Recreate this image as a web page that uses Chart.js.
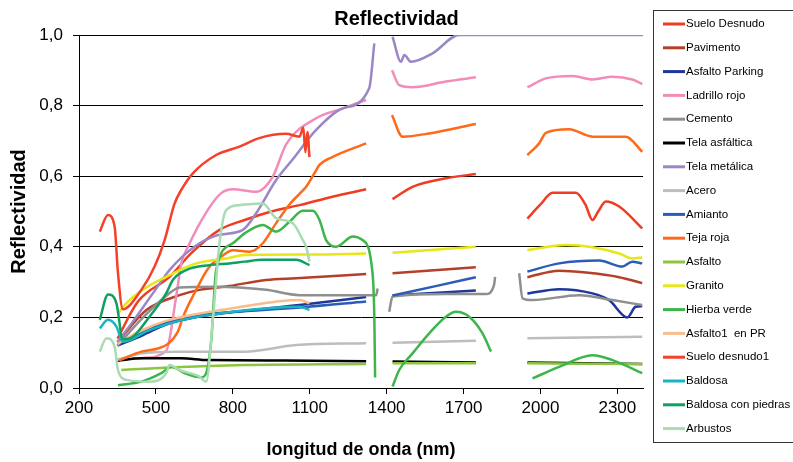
<!DOCTYPE html>
<html>
<head>
<meta charset="utf-8">
<script src="https://cdn.jsdelivr.net/npm/chart.js@4.4.0/dist/chart.umd.min.js"></script>
<style>
  body { margin: 0; background: #fff; }
  #wrap { width: 793px; height: 462px; position: relative; }
</style>
</head>
<body>
<div id="wrap"><canvas id="myChart"></canvas></div>
<script>
// axis ticks
var xTicks = [200, 500, 800, 1100, 1400, 1700, 2000, 2300];
var xTickLabels = ['200', '500', '800', '1100', '1400', '1700', '2000', '2300'];
var yTicks = [0, 0.2, 0.4, 0.6, 0.8, 1.0];
var yTickLabels = ['0,0', '0,2', '0,4', '0,6', '0,8', '1,0'];

// spectra: wavelength (nm) and reflectance, null = gap (water absorption bands)
var sueloDesnudoNm = [350, 430, 553, 638, 748, 846, 950, 1060, 1189, 1320, 1380, 1423, 1501, 1631, 1748, 1880, 1949, 2000, 2047, 2138, 2175, 2203, 2225, 2255, 2307, 2397];
var sueloDesnudoR = [0.14, 0.245, 0.315, 0.382, 0.448, 0.476, 0.50, 0.518, 0.542, 0.563, null, 0.535, 0.57, 0.594, 0.606, null, 0.48, 0.52, 0.553, 0.553, 0.52, 0.476, 0.50, 0.528, 0.514, 0.452];

var pavimentoNm = [350, 463, 592, 670, 787, 930, 1047, 1320, 1380, 1423, 1748, 1880, 1949, 2073, 2177, 2307, 2397];
var pavimentoR = [0.13, 0.221, 0.263, 0.278, 0.289, 0.306, 0.311, 0.323, null, 0.325, 0.342, null, 0.314, 0.332, 0.327, 0.314, 0.297];

var asfaltoParkingNm = [350, 450, 540, 650, 800, 1060, 1320, 1380, 1423, 1600, 1748, 1880, 1949, 2073, 2203, 2268, 2339, 2371, 2397];
var asfaltoParkingR = [0.12, 0.15, 0.18, 0.20, 0.215, 0.235, 0.258, null, 0.262, 0.27, 0.276, null, 0.268, 0.28, 0.268, 0.249, 0.20, 0.23, 0.232];

var ladrilloNm = [350, 450, 540, 579, 599, 625, 702, 755, 800, 891, 956, 1008, 1125, 1229, 1320, 1380, 1421, 1449, 1501, 1631, 1748, 1880, 1949, 2021, 2125, 2203, 2281, 2358, 2397];
var ladrilloR = [0.08, 0.085, 0.105, 0.259, 0.353, 0.40, 0.504, 0.552, 0.563, 0.556, 0.599, 0.69, 0.764, 0.792, 0.816, null, 0.90, 0.858, 0.852, 0.868, 0.88, null, 0.852, 0.877, 0.884, 0.874, 0.882, 0.874, 0.861];

var cementoNm = [350, 450, 547, 592, 735, 930, 1060, 1359, 1365, 1380, 1410, 1423, 1631, 1787, 1819, 1823, 1880, 1917, 1930, 1969, 2151, 2281, 2397];
var cementoR = [0.12, 0.2, 0.265, 0.285, 0.287, 0.278, 0.263, 0.263, 0.282, null, 0.216, 0.259, 0.266, 0.266, 0.292, 0.315, null, 0.325, 0.254, 0.249, 0.263, 0.249, 0.235];

var telaAsfalticaNm = [350, 443, 599, 702, 1000, 1320, 1380, 1423, 1748, 1880, 1949, 2397];
var telaAsfalticaR = [0.077, 0.084, 0.084, 0.079, 0.078, 0.076, null, 0.075, 0.072, null, 0.072, 0.068];

var telaMetalicaNm = [350, 410, 488, 553, 650, 741, 839, 891, 969, 1034, 1125, 1229, 1332, 1352, 1380, 1423, 1456, 1469, 1495, 1579, 1683, 2400];
var telaMetalicaR = [0.13, 0.188, 0.268, 0.334, 0.40, 0.433, 0.448, 0.495, 0.589, 0.648, 0.731, 0.792, 0.849, 0.976, null, 0.995, 0.924, 0.943, 0.924, 0.948, 1.0, 1.0];

var aceroNm = [350, 443, 573, 846, 1047, 1320, 1380, 1423, 1748, 1880, 1949, 2397];
var aceroR = [0.08, 0.098, 0.103, 0.103, 0.122, 0.127, null, 0.128, 0.134, null, 0.141, 0.145];

var amiantoNm = [350, 450, 540, 650, 800, 1060, 1320, 1380, 1423, 1600, 1748, 1880, 1949, 2073, 2229, 2320, 2358, 2397];
var amiantoR = [0.125, 0.16, 0.185, 0.205, 0.215, 0.228, 0.245, null, 0.262, 0.29, 0.314, null, 0.33, 0.353, 0.361, 0.344, 0.358, 0.353];

var tejaRojaNm = [359, 443, 508, 547, 586, 605, 657, 705, 760, 800, 865, 917, 969, 1021, 1060, 1086, 1118, 1138, 1190, 1320, 1380, 1421, 1462, 1566, 1748, 1880, 1949, 1995, 2021, 2112, 2203, 2333, 2397];
var tejaRojaR = [0.079, 0.103, 0.112, 0.125, 0.16, 0.2, 0.278, 0.34, 0.375, 0.39, 0.386, 0.41, 0.467, 0.52, 0.55, 0.57, 0.608, 0.632, 0.655, 0.693, null, 0.773, 0.712, 0.721, 0.748, null, 0.66, 0.693, 0.723, 0.733, 0.712, 0.712, 0.669];

var asfaltoNm = [365, 573, 846, 1320, 1380, 1423, 1748, 1880, 1949, 2397];
var asfaltoR = [0.051, 0.059, 0.065, 0.068, null, 0.07, 0.07, null, 0.07, 0.068];

var granitoNm = [352, 378, 449, 540, 657, 774, 846, 1100, 1320, 1380, 1423, 1748, 1880, 1949, 2099, 2203, 2307, 2358, 2397];
var granitoR = [0.21, 0.235, 0.278, 0.315, 0.353, 0.367, 0.377, 0.378, 0.381, null, 0.383, 0.40, null, 0.391, 0.405, 0.399, 0.381, 0.367, 0.37];

var hierbaNm = [352, 443, 521, 560, 612, 677, 696, 716, 735, 800, 846, 917, 969, 1021, 1073, 1112, 1138, 1164, 1203, 1268, 1306, 1345, 1352, 1355, 1380, 1423, 1449, 1501, 1566, 1631, 1670, 1722, 1774, 1807, 1880, 1969, 2073, 2203, 2281, 2397];
var hierbaR = [0.008, 0.018, 0.042, 0.06, 0.042, 0.03, 0.042, 0.136, 0.334, 0.41, 0.438, 0.462, 0.443, 0.471, 0.502, 0.502, 0.476, 0.419, 0.40, 0.429, 0.419, 0.325, 0.2, 0.03, null, 0.004, 0.051, 0.098, 0.155, 0.202, 0.216, 0.202, 0.155, 0.103, null, 0.027, 0.06, 0.093, 0.079, 0.042];

var asfaltoPRNm = [350, 450, 540, 605, 800, 1060, 1099];
var asfaltoPRR = [0.125, 0.165, 0.19, 0.202, 0.226, 0.249, 0.24];

var sueloDesnudo1Nm = [281, 313, 339, 352, 371, 443, 495, 534, 573, 599, 644, 735, 826, 903, 1008, 1060, 1075, 1083, 1091, 1099];
var sueloDesnudo1R = [0.443, 0.49, 0.457, 0.326, 0.223, 0.278, 0.344, 0.419, 0.523, 0.561, 0.608, 0.66, 0.684, 0.708, 0.72, 0.712, 0.737, 0.668, 0.725, 0.654];

var baldosaNm = [281, 313, 346, 371, 475, 605, 800, 1060, 1099];
var baldosaR = [0.169, 0.193, 0.174, 0.131, 0.164, 0.193, 0.216, 0.23, 0.221];

var baldosaPiedrasNm = [281, 313, 346, 371, 410, 475, 540, 566, 618, 709, 787, 846, 917, 1047, 1099];
var baldosaPiedrasR = [0.193, 0.265, 0.24, 0.138, 0.145, 0.202, 0.268, 0.306, 0.334, 0.348, 0.353, 0.358, 0.363, 0.363, 0.348];

var arbustosNm = [281, 307, 339, 352, 385, 475, 540, 553, 592, 670, 696, 722, 748, 774, 826, 917, 969, 1034, 1073, 1086, 1099];
var arbustosR = [0.103, 0.141, 0.117, 0.051, 0.023, 0.018, 0.042, 0.065, 0.051, 0.032, 0.018, 0.193, 0.41, 0.504, 0.518, 0.523, 0.481, 0.467, 0.419, 0.40, 0.358];

var names = ['Suelo Desnudo', 'Pavimento', 'Asfalto Parking', 'Ladrillo rojo', 'Cemento', 'Tela asfáltica', 'Tela metálica', 'Acero', 'Amianto', 'Teja roja', 'Asfalto', 'Granito', 'Hierba verde', 'Asfalto1  en PR', 'Suelo desnudo1', 'Baldosa', 'Baldosa con piedras', 'Arbustos'];
var xs = [sueloDesnudoNm, pavimentoNm, asfaltoParkingNm, ladrilloNm, cementoNm, telaAsfalticaNm, telaMetalicaNm, aceroNm, amiantoNm, tejaRojaNm, asfaltoNm, granitoNm, hierbaNm, asfaltoPRNm, sueloDesnudo1Nm, baldosaNm, baldosaPiedrasNm, arbustosNm];
var ys = [sueloDesnudoR, pavimentoR, asfaltoParkingR, ladrilloR, cementoR, telaAsfalticaR, telaMetalicaR, aceroR, amiantoR, tejaRojaR, asfaltoR, granitoR, hierbaR, asfaltoPRR, sueloDesnudo1R, baldosaR, baldosaPiedrasR, arbustosR];
var colors = ['#f03c23', '#b5402a', '#1f3799', '#f28cb8', '#8f8f8f', '#000000', '#9b86c6', '#bdbdbd', '#2b5cb8', '#ff6a1a', '#8cc63f', '#e6e619', '#3cb54a', '#f9bc8c', '#f5402a', '#17b5c2', '#0f9f5f', '#a8dcb2'];

var datasets = names.map(function (name, i) {
    return {
        label: name,
        data: xs[i].map(function (x, j) { return { x: x, y: ys[i][j] }; }),
        borderColor: colors[i],
        backgroundColor: colors[i],
        borderWidth: 2.5,
        pointRadius: 0,
        cubicInterpolationMode: 'monotone',
        spanGaps: false,
        order: names.length - i
    };
});

// legend drawn in a framed box on the right, like the spreadsheet one
var boxLegend = {
    id: 'boxLegend',
    afterDraw: function (chart) {
        var c = chart.ctx;
        c.save();
        c.strokeStyle = '#333';
        c.lineWidth = 1;
        c.strokeRect(653.5, 10.5, 150, 432);
        c.font = '11.5px "Liberation Sans", Arial, sans-serif';
        c.textBaseline = 'middle';
        chart.data.datasets.forEach(function (ds, i) {
            var y = 24 + i * 23.8;
            c.strokeStyle = ds.borderColor;
            c.lineWidth = 3;
            c.beginPath();
            c.moveTo(663, y);
            c.lineTo(685, y);
            c.stroke();
            c.fillStyle = '#000';
            c.fillText(ds.label, 686, y);
        });
        c.restore();
    }
};

Chart.defaults.font.family = '"Liberation Sans", Arial, sans-serif';
Chart.defaults.color = '#000';

var ctx = document.getElementById('myChart').getContext('2d');
var chart = new Chart(ctx, {
    type: 'line',
    data: { datasets: datasets },
    options: {
        responsive: true,
        maintainAspectRatio: false,
        animation: false,
        plugins: {
            legend: { display: false },
            tooltip: { enabled: false },
            title: {
                display: true,
                text: 'Reflectividad',
                color: '#000',
                font: { size: 20, weight: 'bold' },
                padding: { top: 7, bottom: 4 }
            }
        },
        scales: {
            x: {
                type: 'linear',
                min: 200,
                max: 2400,
                afterBuildTicks: function (axis) { axis.ticks = xTicks.map(function (v) { return { value: v }; }); },
                afterFit: function (s) { s.height = 74; },
                ticks: {
                    autoSkip: false,
                    maxRotation: 0,
                    padding: 4,
                    font: { size: 17 },
                    callback: function (v, i) { return xTickLabels[i]; }
                },
                grid: { drawOnChartArea: false, drawTicks: true, tickLength: 6, color: '#000' },
                border: { color: '#000', width: 1 },
                title: {
                    display: true,
                    text: 'longitud de onda (nm)',
                    font: { size: 18, weight: 'bold' },
                    padding: { top: 0, bottom: 1 }
                }
            },
            y: {
                min: 0,
                max: 1,
                afterBuildTicks: function (axis) { axis.ticks = yTicks.map(function (v) { return { value: v }; }); },
                afterFit: function (s) { s.width = 79; },
                ticks: {
                    padding: 10,
                    font: { size: 17 },
                    callback: function (v, i) { return yTickLabels[i]; }
                },
                grid: { color: '#000', lineWidth: 1, tickLength: 6 },
                border: { color: '#000', width: 1 },
                title: {
                    display: true,
                    text: 'Reflectividad',
                    font: { size: 20, weight: 'bold' },
                    padding: { top: 7, bottom: 0 }
                }
            },
            // empty right axis that keeps room for the legend box
            legendSpace: {
                position: 'right',
                min: 0,
                max: 1,
                afterFit: function (s) { s.width = 150; },
                ticks: { display: false },
                grid: { display: false },
                border: { display: false }
            }
        }
    },
    plugins: [boxLegend]
});
</script>
</body>
</html>
